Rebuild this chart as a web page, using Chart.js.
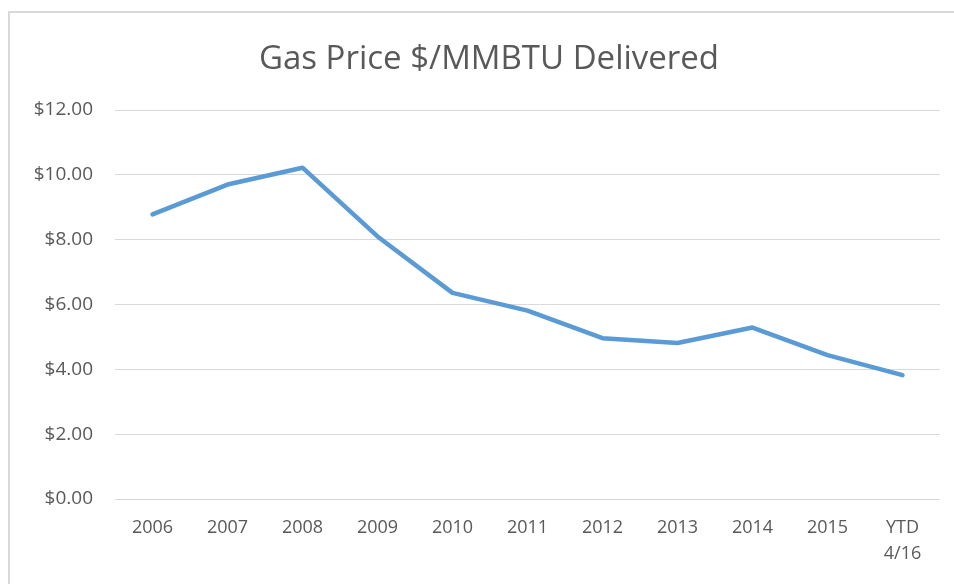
<!DOCTYPE html>
<html>
<head>
<meta charset="utf-8">
<script src="https://cdn.jsdelivr.net/npm/chart.js@4"></script>
<style>
  html, body { margin: 0; padding: 0; background: #fff; overflow: hidden; }
  #frame { position: absolute; left: 8px; top: 11px; width: 1000px; height: 1000px; border: 2px solid #d9d9d9; box-sizing: border-box; }
  #wrap { position: absolute; left: 0; top: 0; width: 954px; height: 584px; }
</style>
</head>
<body>
<div id="frame"></div>
<div id="wrap"><canvas id="gasChart"></canvas></div>
<script>
const years = ["2006", "2007", "2008", "2009", "2010", "2011", "2012", "2013", "2014", "2015", ["YTD", "4/16"]];
const gasPrice = [8.78, 9.70, 10.22, 8.10, 6.36, 5.81, 4.96, 4.81, 5.29, 4.44, 3.82];
const chartTitle = "Gas Price $/MMBTU Delivered";

const textColor = "#595959";

// the built-in title centres on the full canvas width; the reference sits further right
const titlePlugin = {
    id: "offsetTitle",
    afterDraw: function (chart) {
        const ctx = chart.ctx;
        ctx.save();
        ctx.font = "33px 'Open Sans'";
        ctx.fillStyle = textColor;
        ctx.textAlign = "center";
        ctx.textBaseline = "middle";
        ctx.fillText(chartTitle, 489, 60);
        ctx.restore();
    }
};

new Chart(document.getElementById("gasChart"), {
    type: "line",
    data: {
        labels: years,
        datasets: [
            {
                label: "Gas Price",
                data: gasPrice,
                borderColor: "#5b9bd5",
                borderWidth: 4.5,
                pointRadius: 0,
                tension: 0,
                borderCapStyle: "round",
                borderJoinStyle: "round",
                fill: false
            }
        ]
    },
    options: {
        responsive: true,
        maintainAspectRatio: false,
        animation: false,
        layout: {
            padding: { left: 0, right: 14, top: 110, bottom: 0 }
        },
        plugins: {
            legend: { display: false },
            tooltip: { enabled: false },
            title: { display: false }
        },
        scales: {
            x: {
                offset: true,
                grid: { display: false, drawTicks: false },
                border: { display: false },
                ticks: {
                    color: textColor,
                    font: { family: "Open Sans", size: 18, lineHeight: 1.44 },
                    padding: 16,
                    maxRotation: 0,
                    autoSkip: false
                },
                afterFit: function (scale) { scale.height = 85; }
            },
            y: {
                min: 0,
                max: 12,
                grid: { color: "#d9d9d9", lineWidth: 1, drawTicks: false },
                border: { display: false },
                ticks: {
                    stepSize: 2,
                    color: textColor,
                    font: { family: "Open Sans", size: 19 },
                    padding: 22,
                    callback: function (v) { return "$" + v.toFixed(2); }
                },
                afterFit: function (scale) { scale.width = 115; }
            }
        }
    },
    plugins: [titlePlugin]
});
</script>
</body>
</html>
